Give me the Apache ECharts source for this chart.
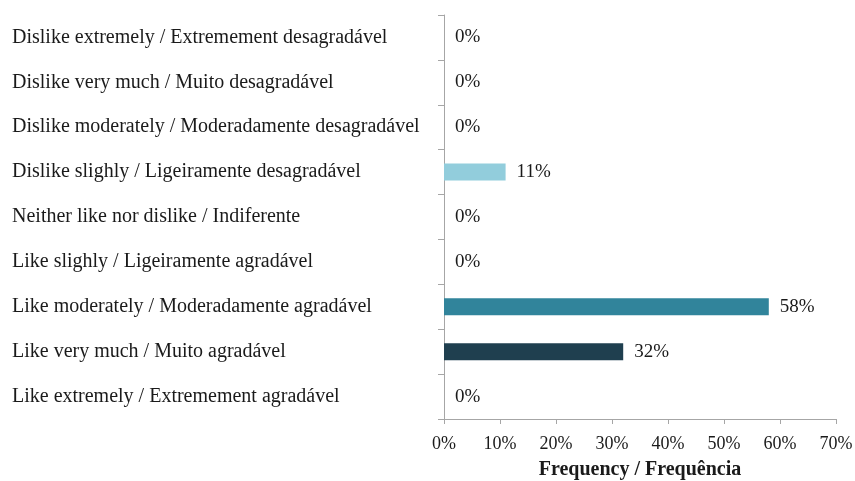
<!DOCTYPE html>
<html>
<head>
<meta charset="utf-8">
<script src="https://cdn.jsdelivr.net/npm/echarts@6/dist/echarts.min.js"></script>
<style>
  html, body { margin: 0; padding: 0; background: #fff; }
  #chart { width: 855px; height: 481px; }
</style>
</head>
<body>
<div id="chart"></div>
<script>
// Hedonic scale categories, top to bottom
const categories = [
  'Dislike extremely / Extremement desagradável',
  'Dislike very much / Muito desagradável',
  'Dislike moderately / Moderadamente desagradável',
  'Dislike slighly / Ligeiramente desagradável',
  'Neither like nor dislike / Indiferente',
  'Like slighly / Ligeiramente agradável',
  'Like moderately / Moderadamente agradável',
  'Like very much / Muito agradável',
  'Like extremely / Extremement agradável'
];
// Frequency of each response, in percent
const frequency = [0, 0, 0, 11, 0, 0, 58, 32, 0];
const barColors = ['#92CDDC', '#92CDDC', '#92CDDC', '#92CDDC', '#92CDDC', '#92CDDC', '#31849B', '#1F3F4F', '#92CDDC'];
const xTicks = [0, 10, 20, 30, 40, 50, 60, 70];

const serif = '"Liberation Serif", "Times New Roman", serif';
const axisGrey = '#A6A6A6';

const chart = echarts.init(document.getElementById('chart'), null, { renderer: 'canvas' });
chart.setOption({
  animation: false,
  backgroundColor: '#fff',
  grid: { left: 444, right: 19, top: 15, bottom: 62, containLabel: false, outerBoundsMode: 'none' },
  xAxis: {
    type: 'value',
    min: xTicks[0],
    max: xTicks[xTicks.length - 1],
    interval: 10,
    name: 'Frequency / Frequência',
    nameLocation: 'middle',
    nameGap: 41,
    nameTextStyle: { fontFamily: serif, fontSize: 20, fontWeight: 'bold', color: '#1a1a1a' },
    axisLine: { show: true, lineStyle: { color: axisGrey, width: 1 } },
    axisTick: { show: true, length: 5, lineStyle: { color: axisGrey } },
    splitLine: { show: false },
    axisLabel: {
      fontFamily: serif, fontSize: 18, color: '#1a1a1a', margin: 16,
      formatter: v => v + '%'
    }
  },
  yAxis: {
    type: 'category',
    data: categories,
    inverse: true,
    axisLine: { show: true, lineStyle: { color: axisGrey, width: 1 } },
    axisTick: { show: true, length: 6, lineStyle: { color: axisGrey } },
    axisLabel: {
      fontFamily: serif, fontSize: 20, color: '#1a1a1a',
      align: 'left', margin: 432
    }
  },
  series: [{
    type: 'bar',
    data: frequency.map((v, i) => ({ value: v, itemStyle: { color: barColors[i] } })),
    barWidth: 17,
    label: {
      show: true,
      position: 'right',
      distance: 11,
      fontFamily: serif,
      fontSize: 19,
      color: '#1a1a1a',
      formatter: p => p.value + '%'
    }
  }]
});
</script>
</body>
</html>
